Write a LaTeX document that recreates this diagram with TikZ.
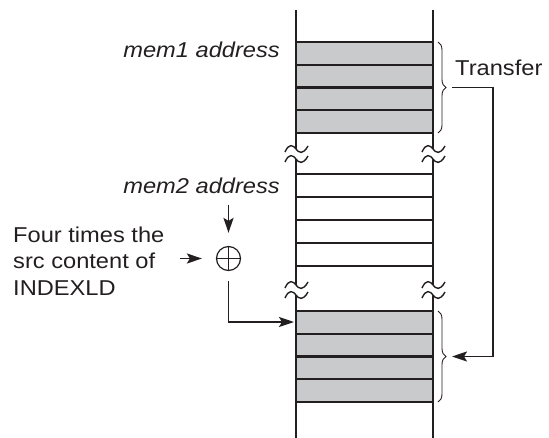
\documentclass[tikz,border=0pt]{standalone}
\usepackage{fontspec}
\setmainfont[FakeStretch=1.1]{Liberation Sans}
\usepackage{tikz}
\usetikzlibrary{arrows.meta,positioning,decorations.pathreplacing}
\definecolor{ink}{HTML}{231F20}
\definecolor{cellgray}{HTML}{C9CACC}

\begin{document}
\begin{tikzpicture}[
      x=1pt, y=-1pt,
      font=\fontsize{21.5}{26.5}\selectfont,
      lab/.style={inner sep=0pt, text=ink},
      cell/.style={draw=ink, line width=2.2pt},
      wall/.style={draw=ink, line width=2.4pt},
      arrow/.style={-{Stealth[length=15pt, width=10pt, inset=3pt]}, draw=ink, line width=1.9pt},
      brace/.style={decorate, decoration={brace, amplitude=8pt}, draw=ink, line width=0.9pt},
      sum/.style={circle, draw=ink, line width=1.2pt, minimum size=24pt, inner sep=0pt,
                  path picture={\draw[ink, line width=1.2pt]
                    (path picture bounding box.north) -- (path picture bounding box.south)
                    (path picture bounding box.west) -- (path picture bounding box.east);}},
      brk/.pic={
        \fill[white] (-2.5,-5) rectangle (2.5,5);
        \foreach \d in {-5,5}
          \draw[ink, line width=1.4pt] (-11,\d+3) .. controls (-7,\d-6) and (-3,\d-4) .. (0,\d)
                .. controls (3,\d+4) and (7,\d+6) .. (12,\d-3);
      }
    ]
    \useasboundingbox (0,0) rectangle (549,437);
    % memory cells
    \foreach \r in {0,...,3} {
      \draw[cell, fill=cellgray] (296,42+\r*22.75) rectangle ++(137,22.75);
      \draw[cell] (296,174+\r*23) rectangle ++(137,23);
      \draw[cell, fill=cellgray] (296,311+\r*22.75) rectangle ++(137,22.75);
    }
    \draw[wall] (296,10) -- (296,440);
    \draw[wall] (433,10) -- (433,440);
    \pic at (296,154) {brk};
    \pic at (433,154) {brk};
    \pic at (296,290) {brk};
    \pic at (433,290) {brk};
    % transfer
    \draw[brace] (438,42) -- (438,133);
    \draw[brace] (438,311) -- (438,402);
    \coordinate (src) at (447,87.5);
    \coordinate (dst) at (447,356.5);
    \coordinate (turn) at (493,222);
    \node[lab, anchor=base west] (xfer) at (455,75) {Transfer};
    \draw[arrow, shorten <=5pt, shorten >=5pt] (src) -| (turn) |- (dst);
    % addresses
    \node[lab, anchor=base east, font=\fontsize{21.5}{26.5}\selectfont\itshape] (mem1) at (280,57) {mem1 address};
    \node[lab, anchor=base east, font=\fontsize{21.5}{26.5}\selectfont\itshape] (mem2) at (280,193) {mem2 address};
    \node[sum] (plus) at (228.5,258.5) {};
    \node[lab, align=left, anchor=west] (four) at (13,261) {Four times the\\src content of\\INDEXLD};
    \coordinate (row) at (294,322);
    \draw[arrow, shorten <=11.5pt, shorten >=13pt] (mem2.south -| plus) -- (plus.north);
    \draw[arrow, shorten <=15pt, shorten >=14pt] (four.east |- plus) -- (plus.west);
    \draw[arrow, shorten <=10pt] (plus.south) |- (row);
  \end{tikzpicture}
\end{document}
